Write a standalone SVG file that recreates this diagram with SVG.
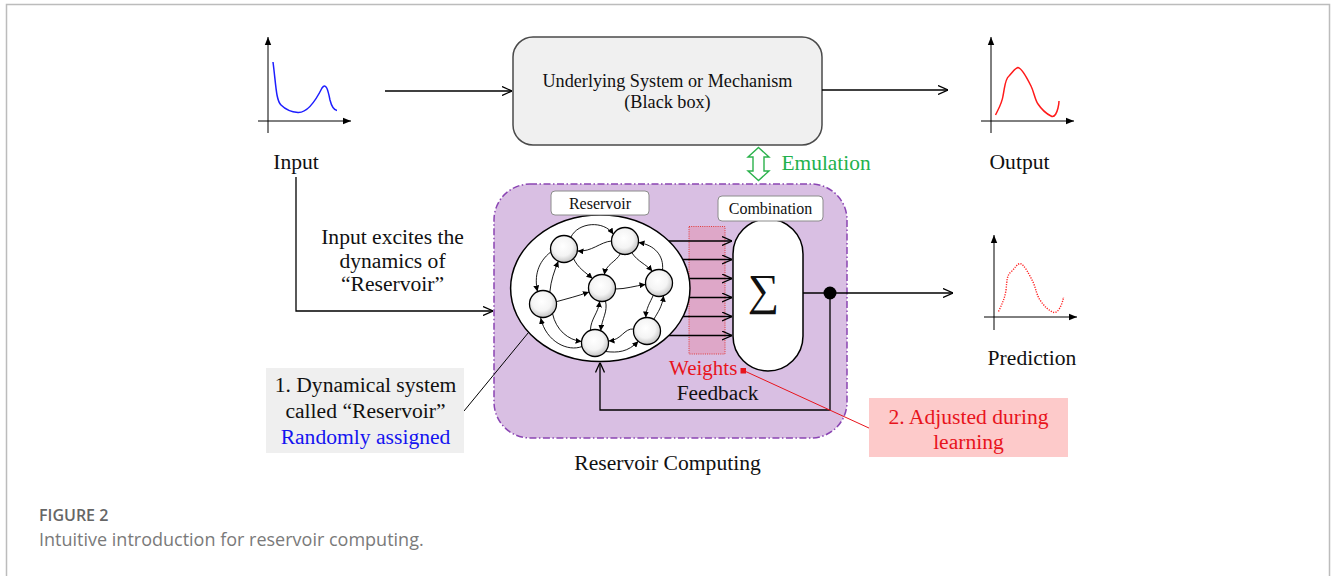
<svg xmlns="http://www.w3.org/2000/svg" width="1332" height="576" viewBox="0 0 1332 576">
  <style>
    .serif { font-family: "Liberation Serif", "Times New Roman", serif; fill: #111; }
    .lbl { font-size: 21.6px; text-anchor: middle; }
    .small { font-size: 16px; text-anchor: middle; }
    .axis { stroke: #000; stroke-width: 1; fill: none; marker-end: url(#tri); }
    .wire { stroke: #000; stroke-width: 1.3; fill: none; }
    .net { stroke: #000; stroke-width: 0.9; fill: none; marker-end: url(#tiny); }
    .node { fill: url(#ball); stroke: #000; stroke-width: 1.3; }
    .cap { font-family: "Open Sans", "Liberation Sans", sans-serif; }
  </style>
  <defs>
    <marker id="open" viewBox="0 0 10 10" refX="10" refY="5" markerWidth="10" markerHeight="10" markerUnits="userSpaceOnUse" orient="auto">
      <path d="M0,0.5 L10,5 L0,9.5" fill="none" stroke="#000" stroke-width="1.3"/>
    </marker>
    <marker id="tri" viewBox="0 0 10 10" refX="10" refY="5" markerWidth="8" markerHeight="8" markerUnits="userSpaceOnUse" orient="auto">
      <path d="M0,1 L10,5 L0,9 Z" fill="#000"/>
    </marker>
    <marker id="tiny" viewBox="0 0 10 10" refX="10" refY="5" markerWidth="6" markerHeight="6" markerUnits="userSpaceOnUse" orient="auto">
      <path d="M0,0 L10,5 L0,10 Z" fill="#000"/>
    </marker>
    <radialGradient id="ball" cx="0.45" cy="0.4" r="0.6">
      <stop offset="0" stop-color="#ffffff"/>
      <stop offset="0.6" stop-color="#f4f4f4"/>
      <stop offset="1" stop-color="#c4c4c4"/>
    </radialGradient>
  </defs>

  <rect width="1332" height="576" fill="#ffffff"/>
  <!-- page frame -->
  <path d="M6.5,576 V4.5 H1329.5 V576" fill="none" stroke="#bcbcbc" stroke-width="1.5"/>

  <!-- input signal plot -->
  <g id="input">
    <line class="axis" x1="268" y1="133" x2="268" y2="37"/>
    <line class="axis" x1="258" y1="121" x2="351" y2="121"/>
    <path d="M273,62 C276,85 276,100 281,105 C286,110 292,112 298,112.5 C308,113 316,100 322,88 C326,82 328,90 330,100 C332,108 334,110 337,110.5" fill="none" stroke="#1e1eff" stroke-width="1.5"/>
    <text class="serif lbl" x="296" y="169">Input</text>
  </g>

  <!-- black box system -->
  <g id="system">
    <rect x="513" y="37" width="309" height="108" rx="20" fill="#f0f0f0" stroke="#4a4a4a" stroke-width="1.5"/>
    <text class="serif" x="667.5" y="87" font-size="18.2" text-anchor="middle">Underlying System or Mechanism</text>
    <text class="serif" x="667.5" y="108" font-size="18.2" text-anchor="middle">(Black box)</text>
  </g>

  <!-- output signal plot -->
  <g id="output">
    <line class="axis" x1="991" y1="133" x2="991" y2="37"/>
    <line class="axis" x1="981" y1="121" x2="1074" y2="121"/>
    <path d="M995.5,115 C999,108 1002,103 1003,96 C1005,86 1005,79 1009,76 C1013,72 1015,68 1018,67.5 C1022,68 1027,78 1031,86 C1034,92 1035,100 1038,104 C1042,110 1047,114 1051,116 C1055,118 1057,112 1058,108 C1059,104 1059,102 1059,101" fill="none" stroke="#ff1a1a" stroke-width="1.5"/>
    <text class="serif lbl" x="1019.5" y="169">Output</text>
  </g>

  <!-- prediction plot -->
  <g id="prediction">
    <line class="axis" x1="994" y1="330" x2="994" y2="235"/>
    <line class="axis" x1="984" y1="317" x2="1077" y2="317"/>
    <path d="M998.5,311.5 C1002,304 1005,298 1006,290 C1007,280 1007,275 1011,272 C1015,268 1017,264 1020,263.5 C1024,264 1029,274 1033,282 C1036,289 1037,296 1040,300 C1044,306 1049,311 1054,312.5 C1058,313 1061,306 1062,303 C1063,300 1063.5,298 1063.5,297" fill="none" stroke="#ff2020" stroke-width="1.4" stroke-dasharray="1.2 1.3"/>
    <text class="serif lbl" x="1032" y="365">Prediction</text>
  </g>

  <!-- emulation relation -->
  <g id="emulation">
    <path d="M758.5,147.5 L769,157 L764,157 L764,171 L769,171 L758.5,180.5 L748,171 L753,171 L753,157 L748,157 Z" fill="#ffffff" stroke="#2bb24c" stroke-width="1.4" stroke-linejoin="miter"/>
    <text x="781.5" y="170" font-family="Liberation Serif, serif" font-size="21.4" fill="#22b14c">Emulation</text>
  </g>

  <!-- reservoir computing frame -->
  <g id="reservoir-computing">
    <rect x="494" y="184" width="353" height="254" rx="36" fill="#d9bfe3" stroke="#8a45b3" stroke-width="1.5" stroke-dasharray="7 2.5 1.5 2.5"/>
    <text class="serif lbl" x="667.5" y="470">Reservoir Computing</text>
  </g>

  <!-- weights band -->
  <g id="weights">
    <rect x="689" y="226.5" width="36" height="127.5" fill="#dea7c8" stroke="#e03a3a" stroke-width="1" stroke-dasharray="1 1.2"/>
    <text x="669" y="375" font-family="Liberation Serif, serif" font-size="21" fill="#e8141c">Weights</text>
  </g>

  <!-- connectors -->
  <g id="connectors">
    <line class="wire" x1="385" y1="91" x2="512" y2="91" marker-end="url(#open)"/>
    <line class="wire" x1="822" y1="90" x2="948" y2="90" marker-end="url(#open)"/>
    <path class="wire" d="M296,177 V311 H493" marker-end="url(#open)"/>
    <line class="wire" x1="668.8" y1="241" x2="732" y2="241" marker-end="url(#open)"/>
    <line class="wire" x1="682.7" y1="259.5" x2="732" y2="259.5" marker-end="url(#open)"/>
    <line class="wire" x1="689.2" y1="278.5" x2="732" y2="278.5" marker-end="url(#open)"/>
    <line class="wire" x1="689.3" y1="297.5" x2="732" y2="297.5" marker-end="url(#open)"/>
    <line class="wire" x1="683" y1="316.5" x2="732" y2="316.5" marker-end="url(#open)"/>
    <line class="wire" x1="668.7" y1="335.5" x2="732" y2="335.5" marker-end="url(#open)"/>
    <line class="wire" x1="803" y1="293" x2="953" y2="293" marker-end="url(#open)"/>
    <path class="wire" d="M830,293 V410 H600 V362.5" marker-end="url(#open)"/>
    <circle cx="830" cy="293" r="6.5" fill="#000"/>
    <line x1="464" y1="411" x2="533" y2="327" stroke="#000" stroke-width="1"/>
    <rect x="530" y="324" width="6" height="6" fill="#000"/>
  </g>

  <!-- reservoir network -->
  <g id="reservoir">
    <ellipse cx="600.3" cy="288.3" rx="89.7" ry="73.3" fill="#ffffff" stroke="#000" stroke-width="1.5"/>
    <g id="reservoir-links">
      <path class="net" d="M570.8,237.3 C578,222 604,220 613.3,234.3"/>
      <path class="net" d="M611.5,241 C600,242 592,252 577.5,251"/>
      <path class="net" d="M550.7,252 C538,262 534,276 537.5,291.5"/>
      <path class="net" d="M549.8,292.3 C551,280 554,272 558.3,261.2"/>
      <path class="net" d="M573.5,258.5 C578,268 585,272 592.5,278.5"/>
      <path class="net" d="M620.4,253.7 C616,262 606,264 604.3,274.7"/>
      <path class="net" d="M631.8,252.7 C638,262 646,264 652.3,271.3"/>
      <path class="net" d="M662.5,270 C664,256 655,245 638.5,242.5"/>
      <path class="net" d="M556.3,301.7 C566,299 578,296 589,292"/>
      <path class="net" d="M615.5,289 C626,289 634,286 645.5,284.5"/>
      <path class="net" d="M552.5,313.5 C556,330 568,340 581.6,341.5"/>
      <path class="net" d="M582,346.5 C568,352 546,342 540.7,318"/>
      <path class="net" d="M590.4,330.3 C591,318 598,314 599.7,301.3"/>
      <path class="net" d="M605.5,301 C608,312 602,318 600.7,330.8"/>
      <path class="net" d="M633.7,329 C624,328 622,340 608.5,341"/>
      <path class="net" d="M605.5,351.5 C618,353 628,352 638.3,341.3"/>
      <path class="net" d="M653.3,295.2 C650,303 646,308 645.8,317.5"/>
      <path class="net" d="M653.8,319.3 C658,312 662,307 663.6,295.7"/>
    </g>
    <circle class="node" cx="564" cy="249" r="13.5"/>
    <circle class="node" cx="625" cy="241" r="13.5"/>
    <circle class="node" cx="602" cy="288" r="13.5"/>
    <circle class="node" cx="659" cy="283" r="13.5"/>
    <circle class="node" cx="543" cy="304" r="13.5"/>
    <circle class="node" cx="595" cy="343" r="13.5"/>
    <circle class="node" cx="647" cy="331" r="13.5"/>
  </g>
  <g id="reservoir-label">
    <rect x="551" y="191" width="98" height="24" rx="4" fill="#ffffff" stroke="#8c8c8c" stroke-width="1"/>
    <text class="serif small" x="600" y="209">Reservoir</text>
  </g>

  <!-- summation unit -->
  <g id="combination">
    <rect x="733" y="219" width="70" height="152" rx="35" ry="35" fill="#ffffff" stroke="#000" stroke-width="1.5"/>
    <text class="serif" x="763.5" y="305" font-size="44" text-anchor="middle">∑</text>
  </g>
  <g id="combination-label">
    <rect x="718" y="196" width="105" height="25" rx="4" fill="#ffffff" stroke="#8c8c8c" stroke-width="1"/>
    <text class="serif small" x="770.5" y="214">Combination</text>
  </g>

  <g id="feedback">
    <text class="serif" x="717.5" y="399.5" font-size="21.3" text-anchor="middle">Feedback</text>
  </g>

  <!-- annotations -->
  <g id="input-note">
    <text class="serif lbl" x="392.5" y="244">Input excites the</text>
    <text class="serif lbl" x="392.5" y="267.5">dynamics of</text>
    <text class="serif lbl" x="392.5" y="291">“Reservoir”</text>
  </g>

  <g id="note-reservoir">
    <rect x="266" y="368" width="198" height="85" fill="#efefef"/>
    <text class="serif lbl" x="365.5" y="392">1. Dynamical system</text>
    <text class="serif lbl" x="365.5" y="418">called “Reservoir”</text>
    <text class="serif lbl" x="365.5" y="444" style="fill:#1414f0">Randomly assigned</text>
  </g>

  <g id="note-weights">
    <line x1="743.5" y1="370.5" x2="870" y2="428.5" stroke="#e8141c" stroke-width="1"/>
    <rect x="740.5" y="368" width="5.5" height="5.5" fill="#e8141c"/>
    <rect x="869" y="398" width="199" height="59" fill="#fdcaca"/>
    <text class="lbl" x="968.5" y="423.5" font-family="Liberation Serif, serif" fill="#e8141c">2. Adjusted during</text>
    <text class="lbl" x="968.5" y="449" font-family="Liberation Serif, serif" fill="#e8141c">learning</text>
  </g>

  <!-- caption -->
  <g id="caption">
    <text class="cap" x="39" y="521" font-size="16" font-weight="600" fill="#666666">FIGURE 2</text>
    <text class="cap" x="39" y="546" font-size="18" fill="#7a7a7a">Intuitive introduction for reservoir computing.</text>
  </g>
</svg>
